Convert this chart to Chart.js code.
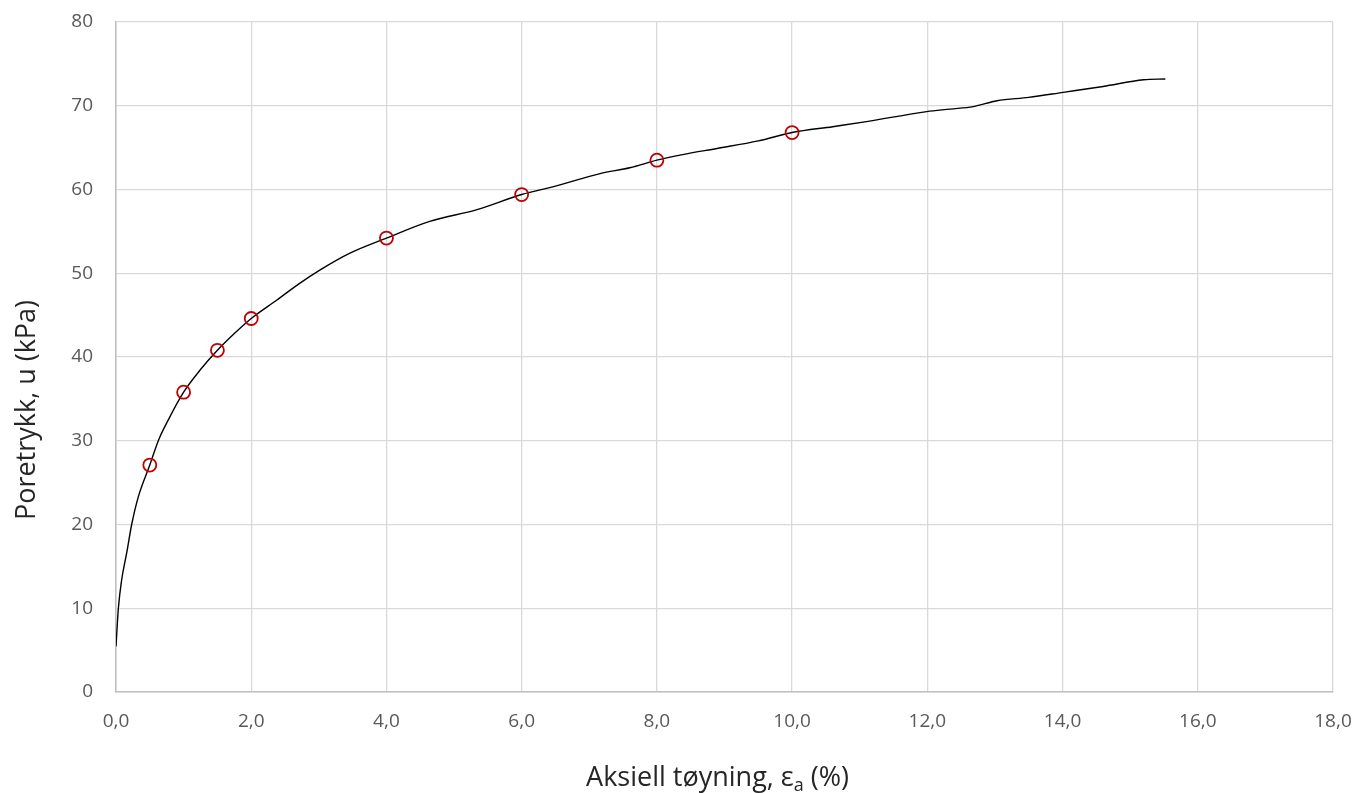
<!DOCTYPE html>
<html>
<head>
<meta charset="utf-8">
<script src="https://cdn.jsdelivr.net/npm/chart.js@4/dist/chart.umd.min.js"></script>
<style>
    html, body { margin: 0; padding: 0; background: #ffffff; }
    #wrap { width: 1370px; height: 793px; }
</style>
</head>
<body>
<div id="wrap"><canvas id="poreChart" width="1370" height="793"></canvas></div>
<script>
// Measured curve: axial strain (%) vs pore pressure (kPa)
const curveStrain = [0, 0.035, 0.084, 0.158, 0.232, 0.33, 0.5, 0.63, 0.774, 1.0, 1.25, 1.5, 1.75, 2.0,
    2.38, 2.7, 3.02, 3.46, 4.0, 4.64, 5.34, 6.0, 6.5, 7.16, 7.6, 8.0, 8.4, 8.89, 9.5, 10.0,
    10.6, 11.1, 11.99, 12.34, 12.68, 13.03, 13.5, 14.01, 14.6, 15.2, 15.52];
const curvePressure = [5.45, 10.0, 13.4, 16.6, 20.0, 23.3, 27.1, 30.1, 32.5, 35.8, 38.5, 40.8, 42.8, 44.6,
    46.8, 48.7, 50.4, 52.4, 54.2, 56.2, 57.6, 59.4, 60.4, 61.9, 62.6, 63.5, 64.2, 64.9, 65.8, 66.8,
    67.5, 68.1, 69.3, 69.6, 69.9, 70.6, 71.0, 71.6, 72.3, 73.1, 73.2];

// Marked points
const markerStrain = [0.5, 1.0, 1.5, 2.0, 4.0, 6.0, 8.0, 10.0];
const markerPressure = [27.1, 35.8, 40.8, 44.6, 54.2, 59.4, 63.5, 66.8];

// Axis setup
const xTicks = [0, 2, 4, 6, 8, 10, 12, 14, 16, 18];
const yTicks = [0, 10, 20, 30, 40, 50, 60, 70, 80];
// x title is split so the subscript "a" can be drawn lower
const xTitleParts = ['Aksiell tøyning, ε', 'a', ' (%)'];
const yTitle = 'Poretrykk, u (kPa)';

const fontFamily = "'Open Sans', 'Noto Sans', sans-serif";

const curvePoints = curveStrain.map((s, i) => ({ x: s, y: curvePressure[i] }));
const markerPoints = markerStrain.map((s, i) => ({ x: s, y: markerPressure[i] }));

// Draw axis titles (Excel-like placement, with subscript)
const axisTitles = {
    id: 'axisTitles',
    afterDraw(chart) {
        const c = chart.ctx;
        const area = chart.chartArea;
        c.save();
        c.fillStyle = '#262626';

        // x title
        const bigFont = `27px ${fontFamily}`;
        const subFont = `18px ${fontFamily}`;
        c.font = bigFont;
        const w0 = c.measureText(xTitleParts[0]).width;
        const w2 = c.measureText(xTitleParts[2]).width;
        c.font = subFont;
        const w1 = c.measureText(xTitleParts[1]).width;
        let x = (area.left + area.right) / 2 - 7 - (w0 + w1 + w2) / 2;
        const base = 786;
        c.textBaseline = 'alphabetic';
        c.textAlign = 'left';
        c.font = bigFont;
        c.fillText(xTitleParts[0], x, base);
        x += w0;
        c.font = subFont;
        c.fillText(xTitleParts[1], x, base + 5);
        x += w1;
        c.font = bigFont;
        c.fillText(xTitleParts[2], x, base);

        // y title
        c.translate(35, 410);
        c.rotate(-Math.PI / 2);
        c.textAlign = 'center';
        c.font = `27px ${fontFamily}`;
        c.fillText(yTitle, 0, 0);
        c.restore();
    }
};

const ctx = document.getElementById('poreChart').getContext('2d');
const poreChart = new Chart(ctx, {
    type: 'scatter',
    data: {
        datasets: [{
            label: 'Marked',
            data: markerPoints,
            showLine: false,
            pointRadius: 6.5,
            pointBorderWidth: 1.8,
            pointBorderColor: '#c00000',
            pointBackgroundColor: 'rgba(0,0,0,0)',
            order: 0
        }, {
            label: 'Curve',
            data: curvePoints,
            showLine: true,
            borderColor: '#000000',
            borderWidth: 1.4,
            pointRadius: 0,
            cubicInterpolationMode: 'monotone',
            order: 1
        }]
    },
    plugins: [axisTitles],
    options: {
        responsive: false,
        animation: false,
        layout: {
            padding: { left: 0, right: 37, top: 22, bottom: 0 }
        },
        plugins: {
            legend: { display: false },
            tooltip: { enabled: false }
        },
        scales: {
            x: {
                type: 'linear',
                min: 0,
                max: 18,
                afterBuildTicks: scale => { scale.ticks = xTicks.map(v => ({ value: v })); },
                afterFit: scale => {
                    scale.height = 101;
                    scale.paddingLeft = 0;
                    scale.paddingRight = 0;
                },
                grid: { color: '#d9d9d9', lineWidth: 1.3, drawTicks: false },
                border: { color: '#bfbfbf', width: 1.5 },
                ticks: {
                    color: '#595959',
                    padding: 18,
                    font: { family: fontFamily, size: 19 },
                    callback: v => v.toFixed(1).replace('.', ',')
                }
            },
            y: {
                min: 0,
                max: 80,
                afterBuildTicks: scale => { scale.ticks = yTicks.map(v => ({ value: v })); },
                afterFit: scale => {
                    scale.width = 116;
                    scale.paddingTop = 0;
                    scale.paddingBottom = 0;
                },
                grid: { color: '#d9d9d9', lineWidth: 1.3, drawTicks: false },
                border: { color: '#bfbfbf', width: 1.5 },
                ticks: {
                    color: '#595959',
                    padding: 23,
                    font: { family: fontFamily, size: 19 }
                }
            }
        }
    }
});
</script>
</body>
</html>
